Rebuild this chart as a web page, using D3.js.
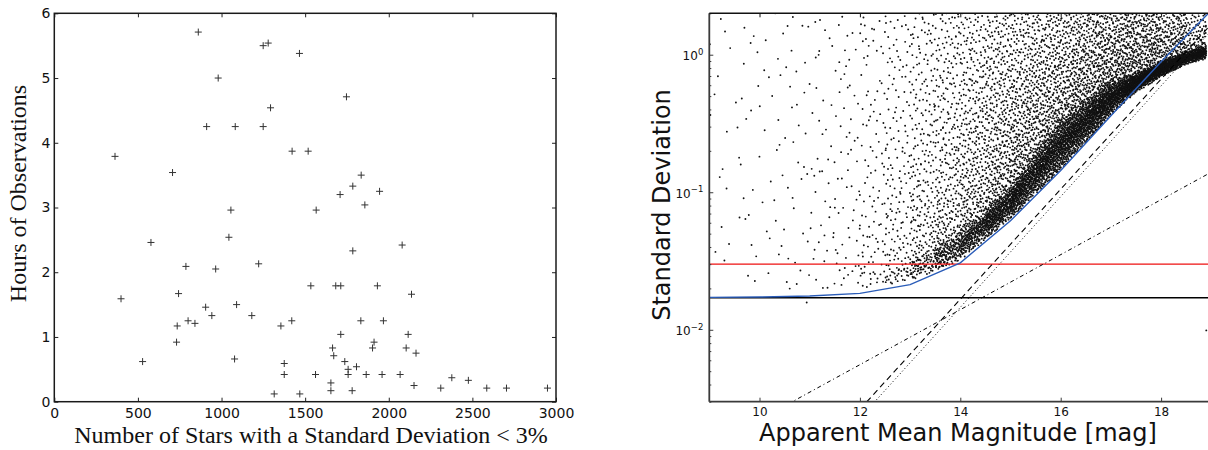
<!DOCTYPE html>
<html>
<head>
<meta charset="utf-8">
<script src="https://cdn.jsdelivr.net/npm/d3@7"></script>
<style>
  body { margin: 0; background: #fff; }
  svg { display: block; }
</style>
</head>
<body>
<svg id="fig" width="1208" height="450"></svg>
<script>
// ---------------- Left panel data: hours observed vs. number of precise stars ----------------
const starCounts = [861, 1249, 1279, 1466, 980, 1293, 911, 1082, 1249, 1422, 363, 707, 1056,
  1747, 1518, 1835, 1785, 1945, 1709, 1857, 1566, 578, 1044, 1222, 787, 965, 399, 743, 905,
  1090, 942, 1181, 800, 841, 735, 1355, 1420, 731, 528, 1078, 1375, 1375, 1315, 1468, 2080,
  1785, 1534, 1683, 1713, 1932, 2136, 1833, 1968, 1713, 2116, 1912, 1664, 1903, 2104, 1671,
  2163, 1737, 1807, 1757, 1757, 1562, 1865, 1960, 2068, 1654, 1654, 1781, 2151, 2311, 2377,
  2476, 2586, 2704, 2949];
const hoursObserved = [5.71, 5.50, 5.54, 5.38, 5.00, 4.54, 4.25, 4.25, 4.25, 3.87, 3.79, 3.54, 2.96,
  4.71, 3.87, 3.50, 3.33, 3.25, 3.20, 3.04, 2.96, 2.46, 2.54, 2.13, 2.09, 2.05, 1.59, 1.67, 1.46,
  1.50, 1.33, 1.33, 1.25, 1.21, 1.17, 1.17, 1.25, 0.92, 0.62, 0.66, 0.59, 0.42, 0.12, 0.12, 2.42,
  2.33, 1.79, 1.79, 1.79, 1.79, 1.66, 1.25, 1.25, 1.04, 1.04, 0.92, 0.83, 0.83, 0.83, 0.71,
  0.75, 0.62, 0.54, 0.50, 0.42, 0.42, 0.42, 0.42, 0.42, 0.29, 0.17, 0.17, 0.25, 0.21, 0.37,
  0.33, 0.21, 0.21, 0.21];
const leftXTicks = [0, 500, 1000, 1500, 2000, 2500, 3000];
const leftYTicks = [0, 1, 2, 3, 4, 5, 6];

// ---------------- Right panel data: scatter of standard deviation vs. magnitude ----------------
// Star counts per magnitude bin, split into a broad halo, a shoulder rising from the
// lower envelope and the dense core of the sequence.
const cloudBinEdges  = [9, 9.5, 10, 10.5, 11, 11.5, 12, 12.5, 13, 13.5, 14, 14.5, 15, 15.5, 16, 16.5, 17, 17.5, 18, 18.5, 18.9];
const haloCounts     = [16, 20, 25, 32, 40, 55, 80, 125, 170, 205, 230, 240, 235, 215, 195, 180, 160, 130, 90, 40];
const shoulderCounts = [0, 0, 0, 0, 5, 10, 25, 50, 100, 160, 240, 320, 380, 420, 440, 430, 400, 340, 260, 140];
const shoulderWidth  = [0.3, 0.3, 0.3, 0.3, 0.3, 0.3, 0.3, 0.35, 0.45, 0.5, 0.55, 0.6, 0.6, 0.6, 0.55, 0.55, 0.5, 0.45, 0.35, 0.25]; // dex
const coreCounts     = [0, 0, 0, 0, 0, 0, 0, 10, 40, 100, 180, 260, 320, 360, 380, 390, 400, 400, 380, 260];
// Lower envelope of the star sequence and the centre of its densest part
const envelopeMag   = [9, 10, 11, 12, 13, 14, 15, 16, 17, 17.5, 18, 18.5, 18.9];
const envelopeSigma = [0.0195, 0.0195, 0.0196, 0.0200, 0.0225, 0.032, 0.064, 0.146, 0.365, 0.53, 0.69, 0.85, 0.93];
const ridgeMag   = [12.5, 13, 14, 15, 16, 17, 17.5, 18, 18.5, 18.9];
const ridgeSigma = [0.024, 0.0275, 0.042, 0.085, 0.23, 0.49, 0.63, 0.79, 0.955, 1.05];
// Individual stars lying away from the sequence
const isolatedMag   = [10.94, 18.9];
const isolatedSigma = [0.0158, 0.0099];

// Noise model curves
const modelMag   = [9, 10, 11, 12, 13, 14, 15, 16, 17, 18, 19];
const modelSigma = [0.0172, 0.0173, 0.0176, 0.0184, 0.0213, 0.0307, 0.062, 0.144, 0.36, 0.89, 2.1];
const floorSigma = 0.0171;   // systematic floor
const limitSigma = 0.030;    // 3 % threshold
const skyMag = [12.0, 19.0],      skySigma = [0.00264, 1.67];     // dashed
const readMag = [12.0, 19.0],     readSigma = [0.00228, 1.50];    // dotted
const photonMag = [10.0, 19.0],   photonSigma = [0.00222, 0.140]; // dash-dot

const rightXTicks = [10, 12, 14, 16, 18];
const rightYMajor = [1, 0.1, 0.01];
const rightYExp = ["0", "\u22121", "\u22122"];

// ------------------------------------------------------------------
const svg = d3.select("#fig");
const SANS = "'DejaVu Sans', sans-serif";
const SERIF = "'Liberation Serif', 'Times New Roman', serif";

function styleAxis(g, color, size) {
  g.select(".domain").remove();
  g.selectAll(".tick line").attr("stroke", color).attr("stroke-width", 1);
  g.selectAll(".tick text").attr("fill", "#111").attr("font-family", SANS).attr("font-size", size);
  g.attr("font-family", null).attr("font-size", null);
}

// ---------------- Left panel ----------------
const LB = { x0: 54.3, x1: 556, y0: 13.3, y1: 401.7 };
const xL = d3.scaleLinear().domain([0, 3000]).range([LB.x0, LB.x1]);
const yL = d3.scaleLinear().domain([0, 6]).range([LB.y1, LB.y0]);
const gL = svg.append("g");

gL.append("g").attr("transform", `translate(0,${LB.y1})`)
  .call(d3.axisBottom(xL).tickValues(leftXTicks).tickFormat(d3.format("d")).tickSizeInner(-4).tickSizeOuter(0).tickPadding(6))
  .call(g => styleAxis(g, "#222", 14));
gL.append("g").attr("transform", `translate(0,${LB.y0})`)
  .call(d3.axisTop(xL).tickValues(leftXTicks).tickFormat("").tickSizeInner(-4).tickSizeOuter(0))
  .call(g => styleAxis(g, "#222", 14));
gL.append("g").attr("transform", `translate(${LB.x0},0)`)
  .call(d3.axisLeft(yL).tickValues(leftYTicks).tickFormat(d3.format("d")).tickSizeInner(-4).tickSizeOuter(0).tickPadding(4))
  .call(g => styleAxis(g, "#222", 14));
gL.append("g").attr("transform", `translate(${LB.x1},0)`)
  .call(d3.axisRight(yL).tickValues(leftYTicks).tickFormat("").tickSizeInner(-4).tickSizeOuter(0))
  .call(g => styleAxis(g, "#222", 14));

gL.append("g").selectAll("path")
  .data(starCounts.map((c, i) => [c, hoursObserved[i]]))
  .join("path")
  .attr("d", d => { const x = xL(d[0]), y = yL(d[1]); return `M${x - 3.5},${y}h7M${x},${y - 3.5}v7`; })
  .attr("stroke", "#333").attr("stroke-width", 1).attr("fill", "none");

gL.append("rect").attr("x", LB.x0).attr("y", LB.y0)
  .attr("width", LB.x1 - LB.x0).attr("height", LB.y1 - LB.y0)
  .attr("fill", "none").attr("stroke", "#1a1a1a").attr("stroke-width", 1.5);

gL.append("text").attr("x", 311).attr("y", 443).attr("text-anchor", "middle")
  .attr("font-family", SERIF).attr("font-size", 24).attr("fill", "#111")
  .text("Number of Stars with a Standard Deviation < 3%");
gL.append("text").attr("transform", "translate(25.5,193.5) rotate(-90)").attr("text-anchor", "middle")
  .attr("font-family", SERIF).attr("font-size", 24).attr("fill", "#111")
  .text("Hours of Observations");

// ---------------- Right panel ----------------
const RB = { x0: 709.3, x1: 1211.3, y0: 13.3, y1: 401.7 };
const xR = d3.scaleLinear().domain([9, 19]).range([RB.x0, RB.x1]);
const yR = d3.scaleLog().domain([0.003, 2]).range([RB.y1, RB.y0]);
const gR = svg.append("g");

svg.append("defs").append("clipPath").attr("id", "plotR")
  .append("rect").attr("x", RB.x0).attr("y", RB.y0)
  .attr("width", RB.x1 - RB.x0).attr("height", RB.y1 - RB.y0);

// Star cloud: the binned counts define a density in (magnitude, log sigma);
// positions come from a Halton sequence thinned against that density.
function halton(i, b) {
  let f = 1, r = 0;
  while (i > 0) { f /= b; r += f * (i % b); i = Math.floor(i / b); }
  return r;
}
const lowerAt = d3.scaleLinear().domain(envelopeMag).range(envelopeSigma.map(Math.log10)).clamp(true);
const ridgeAt = d3.scaleLinear().domain(ridgeMag).range(ridgeSigma.map(Math.log10)).clamp(true);
const topLog = Math.log10(2.2);
const binOf = d3.scaleThreshold().domain(cloudBinEdges.slice(1, -1)).range(d3.range(haloCounts.length));
const magMin = cloudBinEdges[0], magMax = cloudBinEdges[cloudBinEdges.length - 1];

function density(m, lg) {
  const b = binOf(m);
  const bw = cloudBinEdges[b + 1] - cloudBinEdges[b];
  const lo = lowerAt(m);
  if (lg < lo) return 0;
  let rho = haloCounts[b] / (topLog - lo);
  const w = shoulderWidth[b];
  rho += shoulderCounts[b] * Math.exp(-(lg - lo) / w) / w;
  const s = ridgeAt(m) - lo;
  if (coreCounts[b] > 0 && s > 0) {
    const t = (lg - lo) / s;
    if (t < 2) rho += coreCounts[b] * (t < 1 ? t : 2 - t) / s;
  }
  return rho / bw;
}

const logBottom = -1.8;
const area = (magMax - magMin) * (topLog - logBottom);
let rhoMax = 0;
for (let m = magMin + 0.0005; m < magMax; m += 0.01)
  for (let lg = logBottom; lg < topLog; lg += 0.002) rhoMax = Math.max(rhoMax, density(m, lg));
const nCandidates = Math.round(area * rhoMax);
const stars = [];
for (let i = 1; i <= nCandidates; i++) {
  const m = magMin + (magMax - magMin) * halton(i, 2);
  const lg = logBottom + (topLog - logBottom) * halton(i, 3);
  if (halton(i, 5) * rhoMax < density(m, lg)) stars.push([m, Math.pow(10, lg)]);
}
isolatedMag.forEach((m, i) => stars.push([m, isolatedSigma[i]]));

const plot = gR.append("g").attr("clip-path", "url(#plotR)");
plot.append("g").selectAll("circle").data(stars).join("circle")
  .attr("cx", d => xR(d[0])).attr("cy", d => yR(d[1])).attr("r", 0.95).attr("fill", "#111");

const line = d3.line().x(d => xR(d[0])).y(d => yR(d[1]));
const zipPts = (a, b) => a.map((v, i) => [v, b[i]]);

plot.append("path").datum([[9, floorSigma], [19, floorSigma]]).attr("d", line)
  .attr("fill", "none").attr("stroke", "#000").attr("stroke-width", 1.4);
plot.append("path").datum([[9, limitSigma], [19, limitSigma]]).attr("d", line)
  .attr("fill", "none").attr("stroke", "#ee1111").attr("stroke-width", 1.4);
plot.append("path").datum(zipPts(skyMag, skySigma)).attr("d", line)
  .attr("fill", "none").attr("stroke", "#000").attr("stroke-width", 1.1).attr("stroke-dasharray", "6,4");
plot.append("path").datum(zipPts(readMag, readSigma)).attr("d", line)
  .attr("fill", "none").attr("stroke", "#000").attr("stroke-width", 1).attr("stroke-dasharray", "1,2.5");
plot.append("path").datum(zipPts(photonMag, photonSigma)).attr("d", line)
  .attr("fill", "none").attr("stroke", "#000").attr("stroke-width", 1).attr("stroke-dasharray", "4,3,1,3");
plot.append("path").datum(zipPts(modelMag, modelSigma)).attr("d", line)
  .attr("fill", "none").attr("stroke", "#2a5cb8").attr("stroke-width", 1.4);

// Axes
const minorY = [];
[0.001, 0.01, 0.1, 1].forEach(dec => { for (let i = 2; i <= 9; i++) { const v = dec * i; if (v >= 0.003 && v <= 2) minorY.push(v); } });
const axC = "#3a3a3a";
gR.append("g").attr("transform", `translate(0,${RB.y1})`)
  .call(d3.axisBottom(xR).tickValues(rightXTicks).tickFormat(d3.format("d")).tickSizeInner(-4).tickSizeOuter(0).tickPadding(6))
  .call(g => styleAxis(g, axC, 12));
gR.append("g").attr("transform", `translate(0,${RB.y0})`)
  .call(d3.axisTop(xR).tickValues(rightXTicks).tickFormat("").tickSizeInner(-4).tickSizeOuter(0))
  .call(g => styleAxis(g, "#111", 12));
gR.append("g").attr("transform", `translate(${RB.x0},0)`)
  .call(d3.axisLeft(yR).tickValues(rightYMajor).tickFormat("").tickSizeInner(-4).tickSizeOuter(0))
  .call(g => styleAxis(g, axC, 12));
gR.append("g").attr("transform", `translate(${RB.x0},0)`)
  .call(d3.axisLeft(yR).tickValues(minorY).tickFormat("").tickSizeInner(-2).tickSizeOuter(0))
  .call(g => styleAxis(g, axC, 12));

const yLab = gR.append("g").selectAll("text").data(rightYMajor).join("text")
  .attr("x", RB.x0 - 6).attr("y", d => yR(d) + 5.5).attr("text-anchor", "end")
  .attr("font-family", SANS).attr("font-size", 12).attr("fill", "#111");
yLab.append("tspan").text("10");
yLab.append("tspan").attr("font-size", 8.5).attr("dy", -5.5).text((d, i) => rightYExp[i]);

// Spines
gR.append("line").attr("x1", RB.x0).attr("x2", RB.x0).attr("y1", RB.y0).attr("y2", RB.y1)
  .attr("stroke", axC).attr("stroke-width", 1.8);
gR.append("line").attr("x1", RB.x0).attr("x2", RB.x1).attr("y1", RB.y1).attr("y2", RB.y1)
  .attr("stroke", axC).attr("stroke-width", 1.8);
gR.append("line").attr("x1", RB.x0).attr("x2", RB.x1).attr("y1", RB.y0).attr("y2", RB.y0)
  .attr("stroke", "#111").attr("stroke-width", 1.5);
gR.append("line").attr("x1", RB.x1).attr("x2", RB.x1).attr("y1", RB.y0).attr("y2", RB.y1)
  .attr("stroke", "#111").attr("stroke-width", 1.5);

gR.append("text").attr("x", 958).attr("y", 441).attr("text-anchor", "middle")
  .attr("font-family", SANS).attr("font-size", 24).attr("fill", "#111")
  .text("Apparent Mean Magnitude [mag]");
gR.append("text").attr("transform", "translate(670,205) rotate(-90)").attr("text-anchor", "middle")
  .attr("font-family", SANS).attr("font-size", 24).attr("fill", "#111")
  .text("Standard Deviation");
</script>
</body>
</html>
